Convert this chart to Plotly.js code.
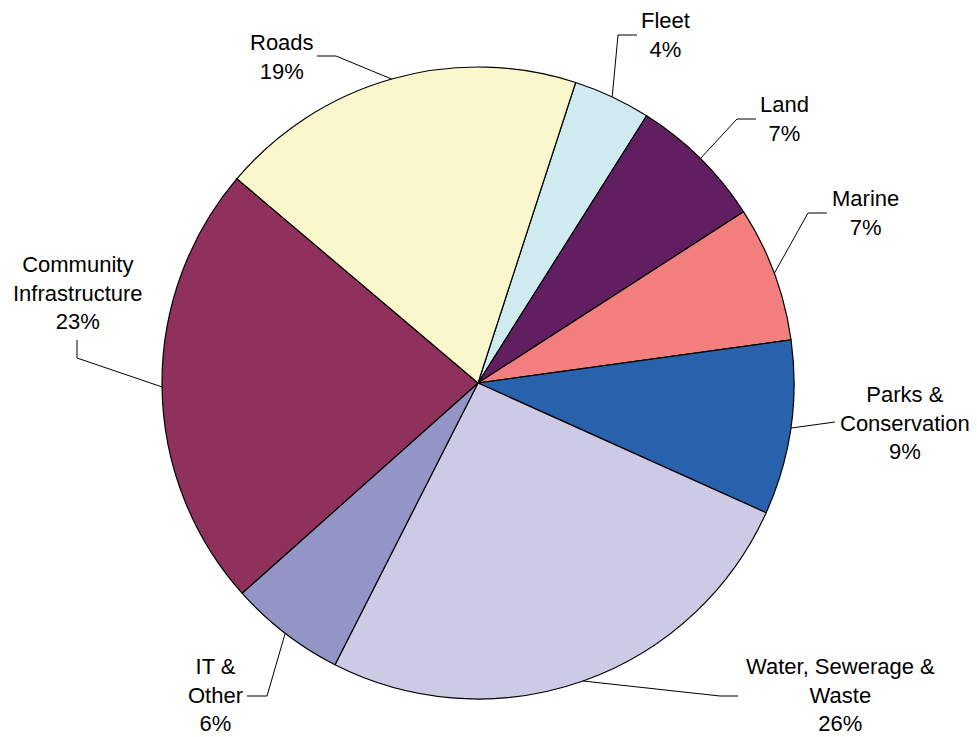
<!DOCTYPE html>
<html>
<head>
<meta charset="utf-8">
<script src="https://cdn.plot.ly/plotly-3.0.1.min.js"></script>
<style>
  html, body { margin: 0; padding: 0; background: #fff; }
  #chart { width: 977px; height: 737px; }
</style>
</head>
<body>
<div id="chart"></div>
<script>
// Share of the capital programme by asset category (percent)
const categories = ['Fleet', 'Land', 'Marine', 'Parks & Conservation',
  'Water, Sewerage & Waste', 'IT & Other', 'Community Infrastructure', 'Roads'];
const labelLines = ['Fleet', 'Land', 'Marine', 'Parks &<br>Conservation',
  'Water, Sewerage &<br>Waste', 'IT &<br>Other', 'Community<br>Infrastructure', 'Roads'];
const shares = [4, 7, 7, 9, 26, 6, 23, 19];

// ---- styling ----
const sliceColors = ['#D0EBF0', '#611F61', '#F27F7E', '#2862AD',
  '#CCCAE5', '#9495C7', '#8F305D', '#FAF7CD'];

const W = 977, H = 737;
const pie = { cx: 478, cy: 383, r: 316, rotation: 18 };

// label block centres and leader-line bend / end points, in pixels
const labelPlacement = {
  'Fleet':                    { text: [665, 35],  path: [[618, 35], [637, 35]] },
  'Land':                     { text: [784, 119], path: [[737, 119], [756, 119]] },
  'Marine':                   { text: [865, 213], path: [[808, 213], [827, 213]] },
  'Parks & Conservation':     { text: [905, 423], path: [[835, 422]] },
  'Water, Sewerage & Waste':  { text: [840, 695], path: [[720, 696], [738, 696]] },
  'IT & Other':               { text: [215, 695], path: [[267, 696], [247, 696]] },
  'Community Infrastructure': { text: [78, 293],  path: [[77, 358], [77, 340]] },
  'Roads':                    { text: [282, 57],  path: [[336, 56], [317, 56]] }
};

const px = x => x / W;
const py = y => 1 - y / H;

// mid-angle of every slice, clockwise from 12 o'clock
const total = shares.reduce((a, b) => a + b, 0);
let acc = pie.rotation;
const midAngles = shares.map(v => {
  const span = v / total * 360;
  const mid = acc + span / 2;
  acc += span;
  return mid * Math.PI / 180;
});

const annotations = [];
const shapes = [];
categories.forEach((cat, i) => {
  const place = labelPlacement[cat];
  annotations.push({
    xref: 'paper', yref: 'paper',
    x: px(place.text[0]), y: py(place.text[1]),
    xanchor: 'center', yanchor: 'middle', align: 'center',
    showarrow: false, borderpad: 0,
    text: labelLines[i] + '<br>' + shares[i] + '%',
    font: { family: 'Liberation Sans, Arial, sans-serif', size: 22, color: '#000' }
  });
  const a = midAngles[i];
  const sx = pie.cx + pie.r * Math.sin(a);
  const sy = pie.cy - pie.r * Math.cos(a);
  let d = `M ${px(sx)} ${py(sy)}`;
  place.path.forEach(p => { d += ` L ${px(p[0])} ${py(p[1])}`; });
  shapes.push({
    type: 'path', xref: 'paper', yref: 'paper', path: d,
    line: { color: '#000', width: 1 }
  });
});

const trace = {
  type: 'pie',
  labels: categories,
  values: shares,
  sort: false,
  direction: 'clockwise',
  rotation: pie.rotation,
  textinfo: 'none',
  hoverinfo: 'label+value',
  marker: { colors: sliceColors, line: { color: '#000', width: 1.2 } },
  domain: {
    x: [px(pie.cx - pie.r), px(pie.cx + pie.r)],
    y: [py(pie.cy + pie.r), py(pie.cy - pie.r)]
  }
};

const layout = {
  width: W, height: H,
  margin: { l: 0, r: 0, t: 0, b: 0 },
  showlegend: false,
  paper_bgcolor: '#fff',
  annotations: annotations,
  shapes: shapes
};

Plotly.newPlot('chart', [trace], layout, { displayModeBar: false, staticPlot: true });
</script>
</body>
</html>
